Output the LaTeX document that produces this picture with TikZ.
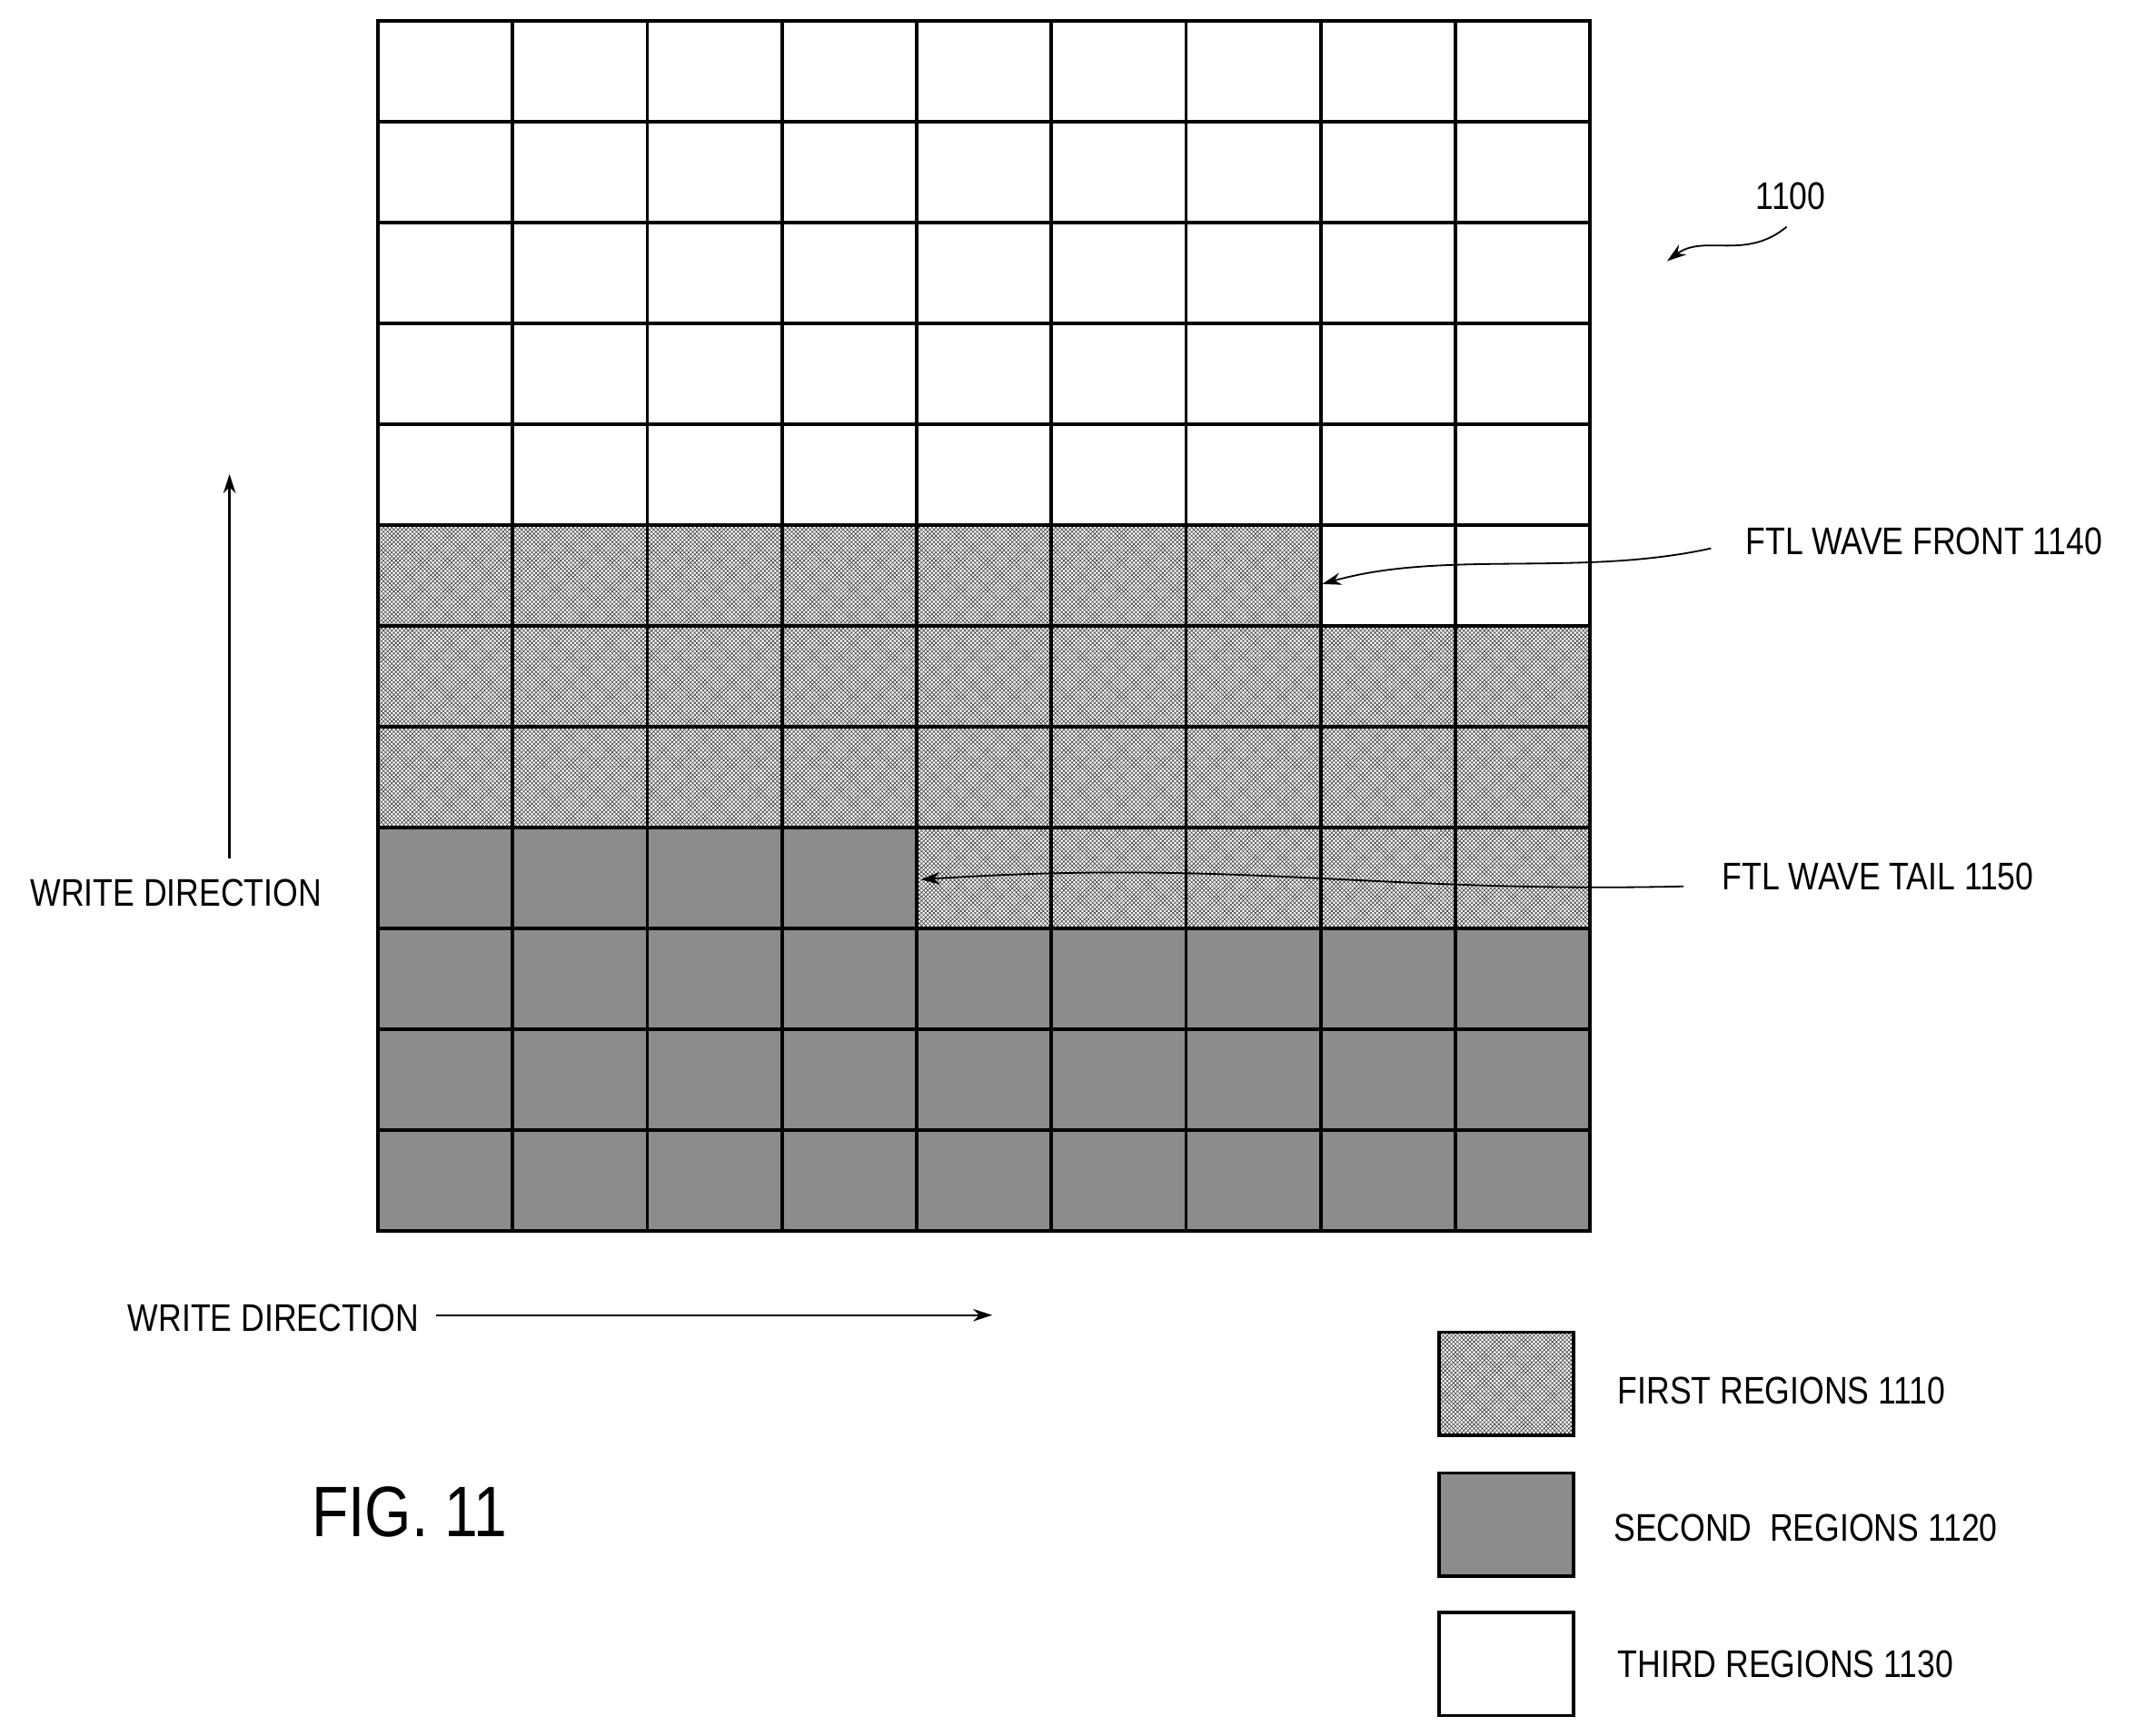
\documentclass[tikz,border=0pt]{standalone}
\usepackage{fontspec}
\setmainfont{Liberation Sans}[FakeStretch=0.84]
\usetikzlibrary{patterns,arrows.meta,positioning}
\begin{document}
\begin{tikzpicture}[x=1pt,y=-1pt,
  cell/.style={draw,line width=2.4pt},
  hatched/.style={cell,pattern=crosshatch,pattern color=black!75},
  solid/.style={cell,fill=black!45},
  lab/.style={font=\fontsize{28}{30}\selectfont,inner sep=0pt},
  legendbox/.style={draw,line width=2.4pt,minimum width=98pt,minimum height=75pt,inner sep=0pt},
  >={Stealth[length=14pt,width=9pt]}]
\useasboundingbox (0,0) rectangle (1568,1263);

% grid: 9 columns, 12 rows
\foreach \c in {0,...,8}{
  \foreach \r in {0,...,11}{
    \pgfmathsetmacro{\xa}{275+98*\c}
    \pgfmathsetmacro{\ya}{15+73.4*\r}
    \pgfmathtruncatemacro{\kind}{
      (\r<5) ? 0 : ((\r==5) ? (\c<7 ? 1 : 0) : ((\r<8) ? 1 : ((\r==8) ? (\c<4 ? 2 : 1) : 2)))}
    \ifcase\kind
      \draw[cell] (\xa,\ya) rectangle ++(98,73.4);
    \or
      \draw[hatched] (\xa,\ya) rectangle ++(98,73.4);
    \or
      \draw[solid] (\xa,\ya) rectangle ++(98,73.4);
    \fi
  }
}

% labels and arrows
\node[lab] (ref) at (1303,143) {1100};
\coordinate (refend) at (1213,190);
\draw[->,line width=1.2pt] (1300,165) .. controls (1270,190) and (1240,170) .. (refend);

\node[lab,anchor=west] (front) at (1270,394) {FTL WAVE FRONT 1140};
\coordinate (frontend) at (962,425);
\draw[->,line width=1.2pt] (front.west) ++(-25,5) .. controls (1150,420) and (1050,400) .. (frontend);

\node[lab,anchor=west] (tail) at (1253,638) {FTL WAVE TAIL 1150};
\coordinate (tailend) at (670,640);
\draw[->,line width=1.2pt] (tail.west) ++(-28,7) .. controls (1000,650) and (900,625) .. (tailend);

\node[lab] (wdup) at (128,650) {WRITE DIRECTION};
\coordinate (uptop) at (167,345);
\draw[->,line width=1.6pt] (167,625) -- (uptop);

\node[lab] (wdright) at (199,959) {WRITE DIRECTION};
\coordinate (rightend) at (722,957);
\draw[->,line width=1.2pt] (wdright.east) ++(12,-2) -- (rightend);

\node[font=\fontsize{52}{56}\selectfont,inner sep=0pt] (fig) at (298,1100) {FIG. 11};

% legend
\node[legendbox,pattern=crosshatch,pattern color=black!75] (first) at (1096,1007) {};
\node[legendbox,fill=black!45,below=25pt of first] (second) {};
\node[legendbox,below=24pt of second] (third) {};
\node[lab,anchor=west] at (1177,1012) {FIRST REGIONS 1110};
\node[lab,anchor=west] at (1174,1112) {SECOND\ \ REGIONS 1120};
\node[lab,anchor=west] at (1177,1211) {THIRD REGIONS 1130};
\end{tikzpicture}
\end{document}
